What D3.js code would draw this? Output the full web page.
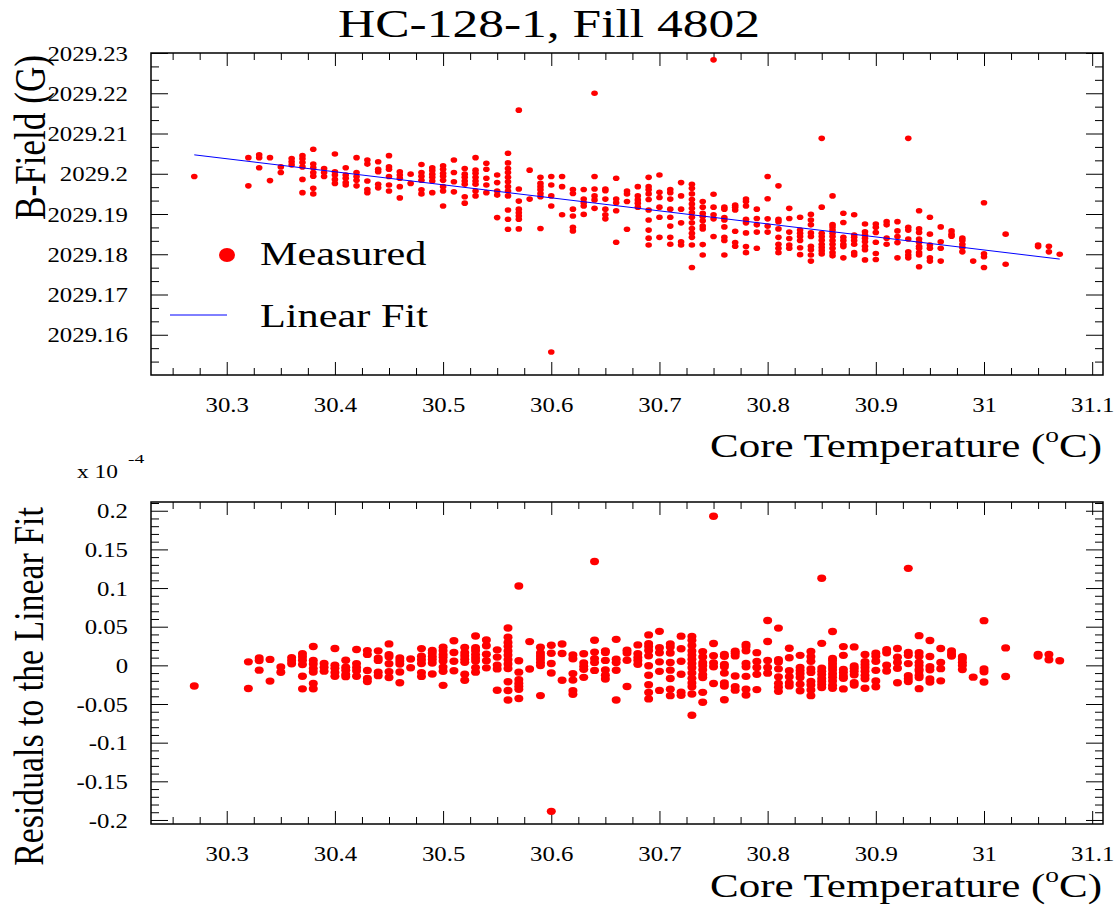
<!DOCTYPE html>
<html><head><meta charset="utf-8">
<script src="https://cdn.jsdelivr.net/npm/d3@7"></script>
<style>
body{margin:0;background:#fff}
svg{display:block}
text{font-family:"Liberation Serif","Times New Roman",serif;fill:#000}
</style>
</head><body>
<svg id="c" width="1117" height="909"></svg>
<script>
// ---------------- data ----------------
const chartTitle = "HC-128-1, Fill 4802";
const tempColumns = [30.27,30.32,30.33,30.34,30.35,30.36,30.37,30.38,30.39,30.40,30.41,30.42,30.43,30.44,30.45,30.46,30.47,30.48,30.49,30.50,
30.51,30.52,30.53,30.54,30.55,30.56,30.57,30.58,30.59,30.60,30.61,30.62,30.63,30.64,30.65,30.66,30.67,30.68,30.69,30.70,
30.71,30.72,30.73,30.74,30.75,30.76,30.77,30.78,30.79,30.80,30.81,30.82,30.83,30.84,30.85,30.86,30.87,30.88,30.89,30.90,
30.91,30.92,30.93,30.94,30.95,30.96,30.97,30.98,30.99,31.00,31.02,31.05,31.06,31.07];
const bFieldByColumn = [
[2029.1993],
[2029.2040,2029.1970],
[2029.2047,2029.2040,2029.2015],
[2029.2040,2029.1983],
[2029.2017,2029.2003],
[2029.2038,2029.2030,2029.2022],
[2029.2045,2029.2037,2029.2028,2029.2017,2029.1986,2029.1953],
[2029.2061,2029.2024,2029.2015,2029.2003,2029.1994,2029.1964,2029.1950],
[2029.2013,2029.2003,2029.1993],
[2029.2049,2029.2005,2029.1997,2029.1986,2029.1976],
[2029.2015,2029.1997,2029.1989,2029.1978,2029.1972],
[2029.2040,2029.2003,2029.1993,2029.1984,2029.1970],
[2029.2034,2029.2024,2029.1982,2029.1961,2029.1953],
[2029.2030,2029.2011,2029.2005,2029.1974,2029.1965],
[2029.2045,2029.2017,2029.2011,2029.1993,2029.1972,2029.1957],
[2029.2005,2029.1997,2029.1989,2029.1968,2029.1940],
[2029.1999,2029.1976],
[2029.2023,2029.2003,2029.1994,2029.1984,2029.1960,2029.1950],
[2029.2015,2029.2008,2029.1999,2029.1991,2029.1982,2029.1953],
[2029.2020,2029.2011,2029.2001,2029.1994,2029.1984,2029.1968,2029.1957,2029.1920],
[2029.2034,2029.2003,2029.1980,2029.1955],
[2029.2013,2029.1999,2029.1991,2029.1982,2029.1974,2029.1943,2029.1927],
[2029.2040,2029.2009,2029.2001,2029.1991,2029.1982,2029.1974,2029.1957,2029.1945],
[2029.2026,2029.2011,2029.1989,2029.1972,2029.1953],
[2029.1997,2029.1978,2029.1957,2029.1947,2029.1891],
[2029.2051,2029.2027,2029.2013,2029.2003,2029.1991,2029.1980,2029.1968,2029.1957,2029.1945,2029.1910,2029.1887,2029.1862],
[2029.2158,2029.1962,2029.1932,2029.1912,2029.1903,2029.1895,2029.1887,2029.1863],
[2029.2009,2029.1937],
[2029.1991,2029.1976,2029.1968,2029.1960,2029.1951,2029.1943,2029.1864],
[2029.1993,2029.1972,2029.1945,2029.1920,2029.1557],
[2029.1993,2029.1968,2029.1898],
[2029.1961,2029.1951,2029.1912,2029.1895,2029.1867,2029.1858],
[2029.1961,2029.1937,2029.1928,2029.1920,2029.1899],
[2029.2200,2029.1993,2029.1962,2029.1945,2029.1935,2029.1914],
[2029.1962,2029.1958,2029.1937,2029.1912,2029.1898,2029.1888],
[2029.1989,2029.1937,2029.1928,2029.1908,2029.1830],
[2029.1957,2029.1950,2029.1931,2029.1862],
[2029.1968,2029.1945,2029.1935,2029.1927,2029.1917],
[2029.1991,2029.1968,2029.1960,2029.1950,2029.1936,2029.1910,2029.1885,2029.1860,2029.1840,2029.1823],
[2029.1997,2029.1954,2029.1941,2029.1917,2029.1892,2029.1842],
[2029.1961,2029.1953,2029.1937,2029.1912,2029.1892,2029.1870,2029.1842,2029.1825],
[2029.1978,2029.1945,2029.1912,2029.1878,2029.1831,2029.1823],
[2029.1974,2029.1964,2029.1950,2029.1936,2029.1925,2029.1914,2029.1903,2029.1892,2029.1878,2029.1864,2029.1852,2029.1842,2029.1823,2029.1767],
[2029.1931,2029.1917,2029.1902,2029.1894,2029.1883,2029.1870,2029.1863,2029.1824,2029.1798],
[2029.2283,2029.1949,2029.1917,2029.1898,2029.1888,2029.1844],
[2029.1917,2029.1912,2029.1891,2029.1885,2029.1868,2029.1842,2029.1834,2029.1798],
[2029.1922,2029.1917,2029.1910,2029.1857,2029.1829,2029.1820],
[2029.1937,2029.1931,2029.1920,2029.1887,2029.1878,2029.1853,2029.1819,2029.1804],
[2029.1912,2029.1889,2029.1873,2029.1855,2029.1815],
[2029.1993,2029.1938,2029.1888,2029.1870,2029.1855],
[2029.1970,2029.1887,2029.1881,2029.1863,2029.1842,2029.1825,2029.1815,2029.1804],
[2029.1914,2029.1889,2029.1855,2029.1839,2029.1823,2029.1815],
[2029.1892,2029.1860,2029.1852,2029.1844,2029.1834,2029.1816,2029.1799],
[2029.1899,2029.1885,2029.1873,2029.1853,2029.1844,2029.1820,2029.1811,2029.1798,2029.1783],
[2029.2088,2029.1917,2029.1852,2029.1844,2029.1835,2029.1825,2029.1817,2029.1809,2029.1801],
[2029.1945,2029.1874,2029.1868,2029.1860,2029.1852,2029.1844,2029.1834,2029.1825,2029.1815,2029.1804,2029.1796],
[2029.1902,2029.1879,2029.1842,2029.1834,2029.1825,2029.1819,2029.1791],
[2029.1898,2029.1848,2029.1842,2029.1834,2029.1825,2029.1804,2029.1798],
[2029.1875,2029.1856,2029.1848,2029.1840,2029.1831,2029.1820,2029.1811,2029.1786],
[2029.1875,2029.1867,2029.1854,2029.1830,2029.1802,2029.1787],
[2029.1881,2029.1873,2029.1840,2029.1825],
[2029.1881,2029.1858,2029.1844,2029.1829,2029.1791],
[2029.2088,2029.1867,2029.1860,2029.1838,2029.1806,2029.1798,2029.1791],
[2029.1908,2029.1863,2029.1854,2029.1838,2029.1830,2029.1820,2029.1815,2029.1804,2029.1798,2029.1769],
[2029.1892,2029.1850,2029.1823,2029.1815,2029.1791,2029.1783],
[2029.1868,2029.1831,2029.1815,2029.1783],
[2029.1858,2029.1850,2029.1845],
[2029.1840,2029.1834,2029.1825,2029.1817,2029.1806],
[2029.1783],
[2029.1928,2029.1801,2029.1794,2029.1767],
[2029.1850,2029.1775],
[2029.1823,2029.1819],
[2029.1820,2029.1806],
[2029.1800]
];
// linear fit line endpoints (temperature, B-field)
const fitTemps = [30.27, 31.07];
const fitFields = [2029.2047, 2029.1788];

const xTickValues = [30.3,30.4,30.5,30.6,30.7,30.8,30.9,31.0,31.1];
const xTickLabels = ["30.3","30.4","30.5","30.6","30.7","30.8","30.9","31","31.1"];
const bTickValues = [2029.16,2029.17,2029.18,2029.19,2029.20,2029.21,2029.22,2029.23];
const bTickLabels = ["2029.16","2029.17","2029.18","2029.19","2029.2","2029.21","2029.22","2029.23"];
const rTickValues = [-0.2,-0.15,-0.1,-0.05,0,0.05,0.1,0.15,0.2];
const rTickLabels = ["-0.2","-0.15","-0.1","-0.05","0","0.05","0.1","0.15","0.2"];
const legendLabels = ["Measured","Linear Fit"];

// ---------------- drawing ----------------
const SERIF = '"Liberation Serif","Times New Roman",serif';
const SX = 1.18; // horizontal stretch of the original rendering
const svg = d3.select("#c");
const xScale = d3.scaleLinear().domain([30.23, 31.11]).range([151, 1103]);
const yTop = d3.scaleLinear().domain([2029.15, 2029.23]).range([375, 53]);
const yBot = d3.scaleLinear().domain([-0.2052, 0.2113]).range([824, 502]);

const points = [];
tempColumns.forEach((t, i) => bFieldByColumn[i].forEach(b => points.push({t, b})));
const fitAt = t => fitFields[0] + (fitFields[1] - fitFields[0]) * (t - fitTemps[0]) / (fitTemps[1] - fitTemps[0]);
points.forEach(p => { const f = fitAt(p.t); p.r = (p.b - f) / f * 1e4; });

function placeText(parent, o) {
  const g = parent.append("g").attr("transform", `translate(${o.x},${o.y})` + (o.rotate ? ` rotate(${o.rotate})` : ""));
  const inner = g.append("g");
  const t = inner.append("text").style("font-family", SERIF).attr("font-size", o.size).attr("text-anchor", o.anchor || "start");
  o.build(t);
  const w = t.node().getBBox().width;
  if (o.width) inner.attr("transform", `scale(${o.width / w},1)`);
  return g;
}
function stretchLabels(sel) {
  sel.selectAll("text").each(function () {
    const w = this.getComputedTextLength();
    this.setAttribute("textLength", w * SX);
    this.setAttribute("lengthAdjust", "spacingAndGlyphs");
  });
}

const xMinor = d3.range(1210, 1245).filter(k => k % 4 !== 0).map(k => k * 0.025);

function drawPanel(yScale, yMajor, yLabels, yMinor, top, bottom) {
  const left = 151, right = 1103;
  const styleAxis = g => {
    g.select(".domain").remove();
    g.attr("font-family", null).attr("font-size", null).attr("color", "#000");
    g.selectAll("line").attr("stroke-width", 1);
    g.selectAll("text").style("font-family", SERIF).style("font-size", "21px");
  };
  const gxb = svg.append("g").attr("transform", `translate(0,${bottom})`)
    .call(d3.axisBottom(xScale).tickValues(xTickValues).tickSize(-13).tickSizeOuter(0).tickFormat((d, i) => xTickLabels[i]));
  styleAxis(gxb);
  gxb.selectAll("text").attr("y", 37).attr("dy", 0);
  stretchLabels(gxb);
  const gxbm = svg.append("g").attr("transform", `translate(0,${bottom})`)
    .call(d3.axisBottom(xScale).tickValues(xMinor).tickSize(-7).tickSizeOuter(0).tickFormat(""));
  styleAxis(gxbm);
  const gxt = svg.append("g").attr("transform", `translate(0,${top})`)
    .call(d3.axisTop(xScale).tickValues(xTickValues).tickSize(-13).tickSizeOuter(0).tickFormat(""));
  styleAxis(gxt);
  const gxtm = svg.append("g").attr("transform", `translate(0,${top})`)
    .call(d3.axisTop(xScale).tickValues(xMinor).tickSize(-7).tickSizeOuter(0).tickFormat(""));
  styleAxis(gxtm);
  const gyl = svg.append("g").attr("transform", `translate(${left},0)`)
    .call(d3.axisLeft(yScale).tickValues(yMajor).tickSize(-17).tickSizeOuter(0).tickFormat((d, i) => yLabels[i]));
  styleAxis(gyl);
  gyl.selectAll("text").attr("x", -23).attr("dy", "0.34em");
  stretchLabels(gyl);
  const gylm = svg.append("g").attr("transform", `translate(${left},0)`)
    .call(d3.axisLeft(yScale).tickValues(yMinor).tickSize(-8).tickSizeOuter(0).tickFormat(""));
  styleAxis(gylm);
  const gyr = svg.append("g").attr("transform", `translate(${right},0)`)
    .call(d3.axisRight(yScale).tickValues(yMajor).tickSize(-17).tickSizeOuter(0).tickFormat(""));
  styleAxis(gyr);
  const gyrm = svg.append("g").attr("transform", `translate(${right},0)`)
    .call(d3.axisRight(yScale).tickValues(yMinor).tickSize(-8).tickSizeOuter(0).tickFormat(""));
  styleAxis(gyrm);
  svg.append("rect").attr("x", left).attr("y", top).attr("width", right - left).attr("height", bottom - top)
    .attr("fill", "none").attr("stroke", "#000").attr("stroke-width", 1.5);
}

const bMinor = d3.range(0, 25).filter(k => k % 3 !== 0).map(k => 2029.15 + k / 300);
const rMinor = d3.range(-20, 22).filter(k => k % 5 !== 0).map(k => k * 0.01);

drawPanel(yTop, bTickValues, bTickLabels, bMinor, 53, 375);
drawPanel(yBot, rTickValues, rTickLabels, rMinor, 502, 824);

// top panel: points + fit line
svg.append("g").selectAll("ellipse").data(points).join("ellipse")
  .attr("cx", d => xScale(d.t)).attr("cy", d => yTop(d.b)).attr("rx", 3.3).attr("ry", 2.8).attr("fill", "#ff0000");
svg.append("line")
  .attr("x1", xScale(fitTemps[0])).attr("y1", yTop(fitFields[0]))
  .attr("x2", xScale(fitTemps[1])).attr("y2", yTop(fitFields[1]))
  .attr("stroke", "#0000ff").attr("stroke-width", 1);

// bottom panel: residuals
svg.append("g").selectAll("ellipse").data(points).join("ellipse")
  .attr("cx", d => xScale(d.t)).attr("cy", d => yBot(d.r)).attr("rx", 4.5).attr("ry", 3.7).attr("fill", "#ff0000");

// legend
svg.append("ellipse").attr("cx", 227).attr("cy", 255).attr("rx", 8).attr("ry", 7).attr("fill", "#ff0000");
svg.append("line").attr("x1", 170).attr("x2", 227).attr("y1", 315).attr("y2", 315).attr("stroke", "#0000ff").attr("stroke-width", 1);
placeText(svg, {x: 260, y: 265, size: 33, width: 167, build: t => t.text(legendLabels[0])});
placeText(svg, {x: 260, y: 327, size: 33, width: 168, build: t => t.text(legendLabels[1])});

// titles
placeText(svg, {x: 549, y: 37, size: 40, anchor: "middle", width: 422, build: t => t.text(chartTitle)});
const xTitle = t => {
  t.append("tspan").text("Core Temperature (");
  t.append("tspan").attr("font-size", 21).attr("dy", -15).text("o");
  t.append("tspan").attr("dy", 15).text("C)");
};
placeText(svg, {x: 1102, y: 457, size: 33, anchor: "end", width: 392, build: xTitle});
placeText(svg, {x: 1102, y: 897, size: 33, anchor: "end", width: 392, build: xTitle});
placeText(svg, {x: 45, y: 137.5, size: 44, anchor: "middle", rotate: -90, width: 165, build: t => t.text("B-Field (G)")});
placeText(svg, {x: 43, y: 686.5, size: 42, anchor: "middle", rotate: -90, width: 359, build: t => t.text("Residuals to the Linear Fit")});
placeText(svg, {x: 77, y: 478, size: 19, width: 41, build: t => t.text("x 10")});
placeText(svg, {x: 128, y: 463, size: 13, width: 17, build: t => t.text("-4")});
</script>
</body></html>
